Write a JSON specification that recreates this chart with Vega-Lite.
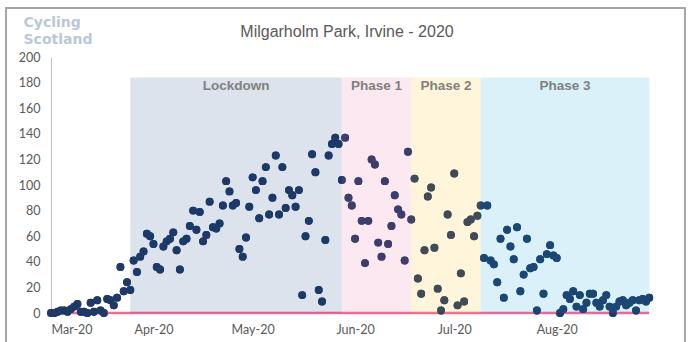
{
  "$schema": "https://vega.github.io/schema/vega-lite/v6.json",
  "width": 628,
  "height": 256,
  "autosize": {"type": "none"},
  "padding": {"left": 51, "top": 57, "right": 14, "bottom": 29},
  "background": "white",
  "config": {
    "view": {"stroke": null},
    "axisX": {"domain": false, "ticks": false, "grid": false, "labelFont": "Lato", "labelFontSize": 12.5, "labelColor": "#595959", "labelPadding": 10, "labelOverlap": false},
    "axisY": {"grid": false, "ticks": false, "domain": true, "domainColor": "#BFBFBF", "domainWidth": 1, "labelFont": "Lato", "labelFontSize": 12.5, "labelColor": "#595959", "labelPadding": 11, "labelOverlap": false,
      "titleAngle": 0, "titleAlign": "left", "titleBaseline": "top", "titleX": -28, "titleY": -42, "titleFont": "DejaVu Sans", "titleFontSize": 14, "titleFontWeight": "bold", "titleColor": "#BCC7D8", "titleLineHeight": 17}
  },
  "title": {"text": "Milgarholm  Park, Irvine - 2020", "font": "Liberation Sans", "fontSize": 16, "fontWeight": "normal", "color": "#595959", "anchor": "middle", "dx": -18, "offset": -33},
  "data": {
    "format": {"parse": {"d": "date:'%Y-%m-%d'"}},
    "values": [
      {"d":"2020-03-01","n":0},{"d":"2020-03-02","n":0},{"d":"2020-03-03","n":1},{"d":"2020-03-04","n":2},{"d":"2020-03-05","n":2},{"d":"2020-03-06","n":1},{"d":"2020-03-07","n":3},{"d":"2020-03-08","n":5},{"d":"2020-03-09","n":7},{"d":"2020-03-10","n":1},{"d":"2020-03-11","n":1},{"d":"2020-03-12","n":0},{"d":"2020-03-13","n":8},{"d":"2020-03-14","n":1},{"d":"2020-03-15","n":10},{"d":"2020-03-16","n":2},{"d":"2020-03-17","n":0},{"d":"2020-03-18","n":11},{"d":"2020-03-19","n":10},{"d":"2020-03-20","n":6},{"d":"2020-03-21","n":12},{"d":"2020-03-22","n":36},{"d":"2020-03-23","n":17},{"d":"2020-03-24","n":24},{"d":"2020-03-25","n":18},{"d":"2020-03-26","n":41},{"d":"2020-03-27","n":32},{"d":"2020-03-28","n":44},{"d":"2020-03-29","n":48},{"d":"2020-03-30","n":62},{"d":"2020-03-31","n":60},
      {"d":"2020-04-01","n":54},{"d":"2020-04-02","n":36},{"d":"2020-04-03","n":34},{"d":"2020-04-04","n":52},{"d":"2020-04-05","n":56},{"d":"2020-04-06","n":58},{"d":"2020-04-07","n":63},{"d":"2020-04-08","n":49},{"d":"2020-04-09","n":34},{"d":"2020-04-10","n":56},{"d":"2020-04-11","n":58},{"d":"2020-04-12","n":68},{"d":"2020-04-13","n":80},{"d":"2020-04-14","n":65},{"d":"2020-04-15","n":79},{"d":"2020-04-16","n":56},{"d":"2020-04-17","n":61},{"d":"2020-04-18","n":87},{"d":"2020-04-19","n":67},{"d":"2020-04-20","n":66},{"d":"2020-04-21","n":70},{"d":"2020-04-22","n":84},{"d":"2020-04-23","n":103},{"d":"2020-04-24","n":95},{"d":"2020-04-25","n":84},{"d":"2020-04-26","n":86},{"d":"2020-04-27","n":50},{"d":"2020-04-28","n":44},{"d":"2020-04-29","n":59},{"d":"2020-04-30","n":83},
      {"d":"2020-05-01","n":106},{"d":"2020-05-02","n":96},{"d":"2020-05-03","n":74},{"d":"2020-05-04","n":103},{"d":"2020-05-05","n":114},{"d":"2020-05-06","n":77},{"d":"2020-05-07","n":90},{"d":"2020-05-08","n":123},{"d":"2020-05-09","n":77},{"d":"2020-05-10","n":114},{"d":"2020-05-11","n":82},{"d":"2020-05-12","n":96},{"d":"2020-05-13","n":92},{"d":"2020-05-14","n":83},{"d":"2020-05-15","n":96},{"d":"2020-05-16","n":14},{"d":"2020-05-17","n":60},{"d":"2020-05-18","n":72},{"d":"2020-05-19","n":124},{"d":"2020-05-20","n":110},{"d":"2020-05-21","n":18},{"d":"2020-05-22","n":9},{"d":"2020-05-23","n":57},{"d":"2020-05-24","n":123},{"d":"2020-05-25","n":132},{"d":"2020-05-26","n":137},{"d":"2020-05-27","n":132},{"d":"2020-05-28","n":104},{"d":"2020-05-29","n":137},{"d":"2020-05-30","n":90},{"d":"2020-05-31","n":84},
      {"d":"2020-06-01","n":58},{"d":"2020-06-02","n":103},{"d":"2020-06-03","n":72},{"d":"2020-06-04","n":39},{"d":"2020-06-05","n":72},{"d":"2020-06-06","n":120},{"d":"2020-06-07","n":116},{"d":"2020-06-08","n":55},{"d":"2020-06-09","n":44},{"d":"2020-06-10","n":103},{"d":"2020-06-11","n":54},{"d":"2020-06-12","n":68},{"d":"2020-06-13","n":92},{"d":"2020-06-14","n":81},{"d":"2020-06-15","n":77},{"d":"2020-06-16","n":41},{"d":"2020-06-17","n":126},{"d":"2020-06-18","n":73},{"d":"2020-06-19","n":105},{"d":"2020-06-20","n":27},{"d":"2020-06-21","n":15},{"d":"2020-06-22","n":49},{"d":"2020-06-23","n":91},{"d":"2020-06-24","n":98},{"d":"2020-06-25","n":51},{"d":"2020-06-26","n":19},{"d":"2020-06-27","n":2},{"d":"2020-06-28","n":10},{"d":"2020-06-29","n":77},{"d":"2020-06-30","n":61},
      {"d":"2020-07-01","n":109},{"d":"2020-07-02","n":6},{"d":"2020-07-03","n":31},{"d":"2020-07-04","n":9},{"d":"2020-07-05","n":71},{"d":"2020-07-06","n":73},{"d":"2020-07-07","n":60},{"d":"2020-07-08","n":76},{"d":"2020-07-09","n":84},{"d":"2020-07-10","n":43},{"d":"2020-07-11","n":84},{"d":"2020-07-12","n":41},{"d":"2020-07-13","n":38},{"d":"2020-07-14","n":24},{"d":"2020-07-15","n":58},{"d":"2020-07-16","n":12},{"d":"2020-07-17","n":65},{"d":"2020-07-18","n":52},{"d":"2020-07-19","n":42},{"d":"2020-07-20","n":67},{"d":"2020-07-21","n":17},{"d":"2020-07-22","n":30},{"d":"2020-07-23","n":58},{"d":"2020-07-24","n":35},{"d":"2020-07-25","n":36},{"d":"2020-07-26","n":2},{"d":"2020-07-27","n":42},{"d":"2020-07-28","n":15},{"d":"2020-07-29","n":46},{"d":"2020-07-30","n":53},{"d":"2020-07-31","n":45},
      {"d":"2020-08-01","n":43},{"d":"2020-08-02","n":0},{"d":"2020-08-03","n":3},{"d":"2020-08-04","n":14},{"d":"2020-08-05","n":11},{"d":"2020-08-06","n":17},{"d":"2020-08-07","n":5},{"d":"2020-08-08","n":14},{"d":"2020-08-09","n":3},{"d":"2020-08-10","n":8},{"d":"2020-08-11","n":15},{"d":"2020-08-12","n":15},{"d":"2020-08-13","n":8},{"d":"2020-08-14","n":5},{"d":"2020-08-15","n":10},{"d":"2020-08-16","n":14},{"d":"2020-08-17","n":5},{"d":"2020-08-18","n":0},{"d":"2020-08-19","n":5},{"d":"2020-08-20","n":9},{"d":"2020-08-21","n":10},{"d":"2020-08-22","n":6},{"d":"2020-08-23","n":8},{"d":"2020-08-24","n":10},{"d":"2020-08-25","n":2},{"d":"2020-08-26","n":10},{"d":"2020-08-27","n":11},{"d":"2020-08-28","n":9},{"d":"2020-08-29","n":12}
    ]
  },
  "layer": [
    {
      "mark": {"type": "circle", "size": 62, "opacity": 1, "color": "#1F3864"},
      "encoding": {
        "x": {
          "field": "d", "type": "temporal", "title": null,
          "scale": {"domain": [{"year": 2020, "month": 3, "date": 1}, {"year": 2020, "month": 9, "date": 7}]},
          "axis": {
            "title": null, "format": "%b-%y", "labelOverlap": false,
            "values": [{"year": 2020, "month": 3, "date": 1}, {"year": 2020, "month": 4, "date": 1}, {"year": 2020, "month": 5, "date": 1}, {"year": 2020, "month": 6, "date": 1}, {"year": 2020, "month": 7, "date": 1}, {"year": 2020, "month": 8, "date": 1}]
          }
        },
        "y": {
          "field": "n", "type": "quantitative", "title": ["Cycling", "Scotland"],
          "scale": {"domain": [0, 200], "nice": false},
          "axis": {"title": ["Cycling", "Scotland"], "labelOverlap": false, "tickCount": 11, "values": [0, 20, 40, 60, 80, 100, 120, 140, 160, 180, 200]}
        }
      }
    },
    {
      "mark": {"type": "rect", "fill": null, "stroke": "#A6A6A6", "strokeWidth": 1.2, "clip": false},
      "encoding": {
        "x": {"datum": {"year": 2020, "month": 2, "date": 16, "hours": 7}, "type": "temporal"},
        "x2": {"datum": {"year": 2020, "month": 9, "date": 8, "hours": 17}},
        "y": {"datum": 238.3, "type": "quantitative"},
        "y2": {"datum": -30}
      }
    },
    {
      "mark": {"type": "rule", "color": "#F06C94", "strokeWidth": 2.6},
      "encoding": {
        "x": {"aggregate": "min", "field": "d", "type": "temporal"},
        "x2": {"aggregate": "max", "field": "d"},
        "y": {"datum": 0, "type": "quantitative"}
      }
    },
    {
      "mark": {"type": "circle", "size": 62, "opacity": 1, "color": "#1F3864"},
      "encoding": {
        "x": {"field": "d", "type": "temporal"},
        "y": {"field": "n", "type": "quantitative"}
      }
    },
    {
      "data": {
        "format": {"parse": {"s": "date:'%Y-%m-%d'", "e": "date:'%Y-%m-%d'"}},
        "values": [
          {"p": "Lockdown", "s": "2020-03-25", "e": "2020-05-28"},
          {"p": "Phase 1", "s": "2020-05-28", "e": "2020-06-18"},
          {"p": "Phase 2", "s": "2020-06-18", "e": "2020-07-09"},
          {"p": "Phase 3", "s": "2020-07-09", "e": "2020-08-29"}
        ]
      },
      "layer": [
        {
          "mark": {"type": "rect", "opacity": 0.15},
          "encoding": {
            "x": {"field": "s", "type": "temporal"},
            "x2": {"field": "e"},
            "y": {"datum": 0, "type": "quantitative"},
            "y2": {"datum": 184},
            "color": {"field": "p", "type": "nominal", "legend": null,
              "scale": {"domain": ["Lockdown", "Phase 1", "Phase 2", "Phase 3"], "range": ["#164480", "#EB669B", "#FFBC08", "#08A2D7"]}}
          }
        },
        {
          "transform": [{"calculate": "(time(datum.s) + time(datum.e)) / 2", "as": "mid"}],
          "mark": {"type": "text", "font": "Liberation Sans", "fontSize": 13.5, "fontWeight": "bold", "color": "#808080", "baseline": "middle", "align": "center"},
          "encoding": {
            "x": {"field": "mid", "type": "temporal"},
            "y": {"datum": 177, "type": "quantitative"},
            "text": {"field": "p"}
          }
        }
      ]
    }
  ]
}
